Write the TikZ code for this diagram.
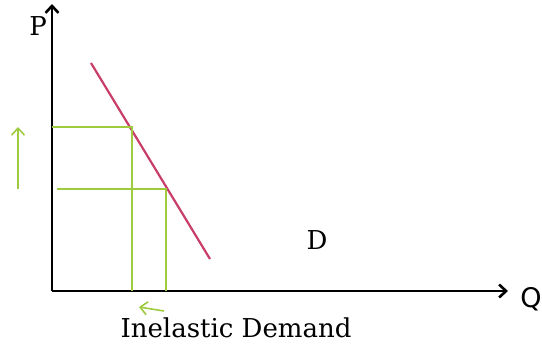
\documentclass[tikz,border=0pt]{standalone}
\usepackage{fontspec}
\setmainfont{DejaVu Serif}
\newfontfamily\qfont{DejaVu Sans}
\usetikzlibrary{positioning,arrows.meta,calc}
\definecolor{demandred}{RGB}{200,62,105}
\definecolor{guidegreen}{RGB}{158,204,62}

\begin{document}
\begin{tikzpicture}[x=1pt,y=-1pt,>={Straight Barb[length=7pt,width=13pt]},
  axis/.style={->,line width=2.6pt},
  guide/.style={guidegreen,line width=2.2pt},
  lbl/.style={font=\fontsize{26}{30}\selectfont,inner sep=0pt}]
\useasboundingbox (0,0) rectangle (542,349);
\coordinate (o) at (52,291);
\coordinate (ptop) at (52,4);
\coordinate (qend) at (508,291);
\coordinate (d0) at (91,63);
\coordinate (d1) at (210,259);
\coordinate (a) at (132,127);
\coordinate (b) at (166,189);
\node[lbl] (plabel) at (38,26) {P};
\node[lbl,font=\qfont\fontsize{27}{30}\selectfont] (qlabel) at (531,299) {Q};
\node[lbl] (dlabel) at (317,240) {D};
\node[lbl] (title) at (236,328) {Inelastic Demand};
\draw[axis] (o) -- (ptop);
\draw[axis] (o) -- (qend);
\draw[demandred,line width=2.2pt] (d0) -- (d1);
\draw[guide] (a -| o) -- (a) -- (a |- o);
\draw[guide] ($(b -| o)+(5,0)$) -- (b) -- (b |- o);
\draw[guide,->,line width=1.6pt] (18,189) -- (18,127);
\draw[guide,->,line width=1.6pt] (164,311) -- (139,307);
\end{tikzpicture}
\end{document}
